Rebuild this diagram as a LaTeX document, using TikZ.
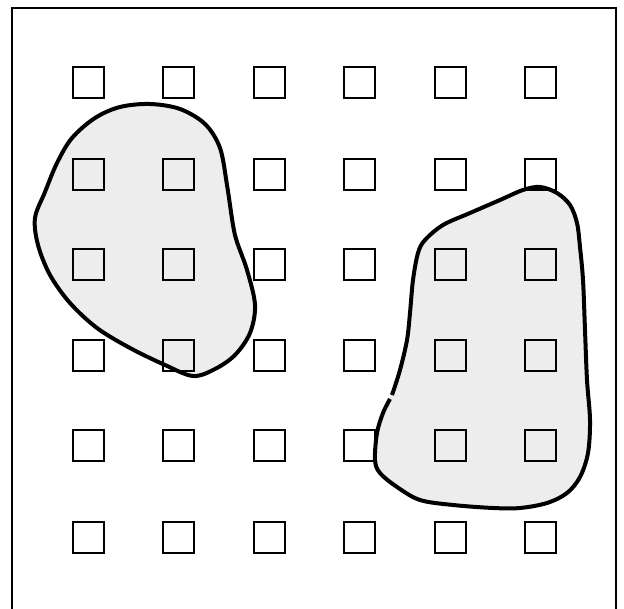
\documentclass[tikz,border=0pt]{standalone}
\begin{document}
\begin{tikzpicture}[x=1pt,y=-1pt,
  frameline/.style={line width=2pt},
  cell/.style={draw,line width=2pt,minimum size=31pt,inner sep=0pt,outer sep=0pt},
  blobfill/.style={fill=black!7,draw=none},
  blobline/.style={line width=4pt,line join=round,line cap=round}]
\useasboundingbox (0,0) rectangle (624,609);
% frame
\draw[frameline] (12,612) -- (12,8) -- (616,8) -- (616,612);
% blob shapes
\def\blobA{(150,104) (180,109) (205,124) (220,148) (227,185) (233,225) (237,242)
 (247,270) (255,305) (250,333) (235,355) (215,369) (193,376) (165,365) (130,348)
 (97,328) (70,303) (50,275) (38,245) (35,218) (45,192) (57,163) (72,138) (95,118) (120,107)}
\fill[blobfill] plot[smooth cycle,tension=0.55] coordinates {\blobA};
\fill[blobfill] plot[smooth cycle,tension=0.55] coordinates {
 (540,187) (557,193) (570,205) (577,223) (580,247) (583,280) (585,330) (587,380)
 (590,420) (588,453) (580,477) (567,493) (547,503) (520,508) (493,508) (453,505)
 (420,500) (397,487) (380,473) (375,460) (377,433) (383,413) (392,393) (400,370)
 (407,340) (410,313) (413,280) (418,253) (425,240) (443,225) (470,213) (500,200)
 (523,190)};
% grid of squares
\foreach \c/\x in {1/88.5,2/178.5,3/269.5,4/359.5,5/450.5,6/540.5}{
  \foreach \r/\y in {1/83,2/175,3/264.5,4/356,5/445.5,6/537}{
    \node[cell] (s\r\c) at (\x,\y) {};
  }
}
% blob outlines
\draw[blobline] plot[smooth cycle,tension=0.55] coordinates {\blobA};
\draw[blobline,line cap=butt] plot[smooth,tension=0.55] coordinates {
 (390,399) (383,413) (377,433) (375,460) (380,473) (397,487)
 (420,500) (453,505) (493,508) (520,508) (547,503) (567,493) (580,477) (588,453)
 (590,420) (587,380) (585,330) (583,280) (580,247) (577,223) (570,205) (557,193)
 (540,187) (523,190) (500,200) (470,213) (443,225) (425,240) (418,253) (413,280)
 (410,313) (407,340) (400,370) (392,395)};
\end{tikzpicture}
\end{document}
